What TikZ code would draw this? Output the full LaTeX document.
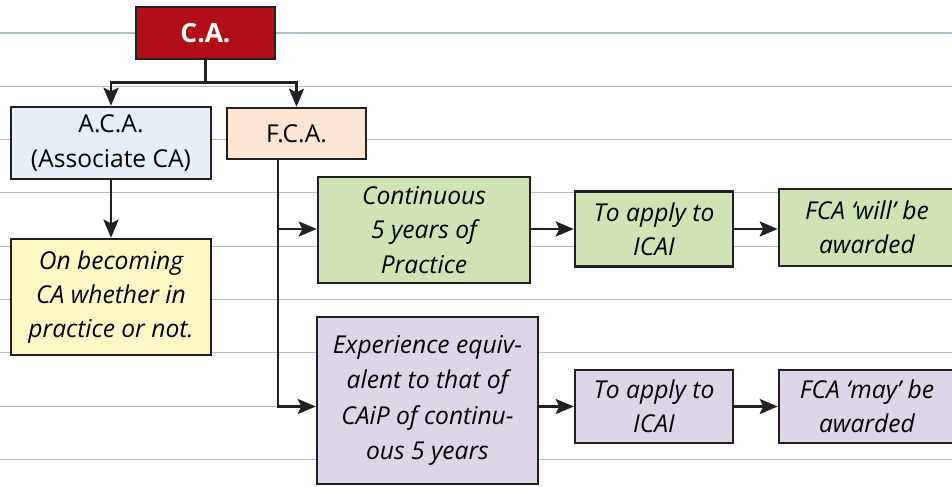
\documentclass[tikz,border=0pt]{standalone}
\usepackage{fontspec}
\setmainfont{Open Sans}
\usepackage{tikz}
\usetikzlibrary{arrows.meta, positioning}

\definecolor{caRed}{RGB}{178,14,23}
\definecolor{acaBlue}{RGB}{229,238,249}
\definecolor{fcaPeach}{RGB}{252,229,211}
\definecolor{noteYellow}{RGB}{255,248,197}
\definecolor{stepGreen}{RGB}{206,228,181}
\definecolor{stepPurple}{RGB}{222,213,232}
\definecolor{ruleLine}{RGB}{172,190,200}
\definecolor{boxLine}{RGB}{35,32,32}

\begin{document}
\begin{tikzpicture}[
    box/.style={rectangle, draw=boxLine, line width=1.4pt, align=center, inner sep=2pt, font=\itshape\fontsize{14}{19.5}\selectfont},
    flow/.style={-{Stealth[length=3.6mm, width=3mm, inset=0.7mm]}, line width=1.5pt, draw=boxLine}
]
    \useasboundingbox (0,0) rectangle (19.04,9.72);
    % ruled paper
    \foreach \k in {0,...,8}
        \draw[ruleLine, line width=0.6pt] (0,{9.06-1.066*\k}) -- (19.04,{9.06-1.066*\k});

    \node[box, fill=caRed, text=white, font=\bfseries\fontsize{15}{19.5}\selectfont, minimum width=2.78cm, minimum height=1.04cm] (ca) at (4.11,9.06) {C.A.};
    \node[box, fill=acaBlue, font=\fontsize{14}{19.5}\selectfont, minimum width=4cm, minimum height=1.44cm] (aca) at (2.22,6.86) {A.C.A.\\(Associate CA)};
    \node[box, fill=fcaPeach, font=\fontsize{14}{19.5}\selectfont, minimum width=2.78cm, minimum height=1.02cm] (fca) at (5.93,7.05) {F.C.A.};
    \node[box, fill=noteYellow, minimum width=4cm, minimum height=2.32cm] (become) at (2.22,3.78) {On becoming\\CA whether in\\practice or not.};

    % continuous practice row
    \node[box, fill=stepGreen, minimum width=4.24cm, minimum height=2.12cm] (cont) at (8.48,5.12) {Continuous\\5 years of\\Practice};
    \node[box, fill=stepGreen, minimum width=3.16cm, minimum height=1.5cm] (apply1) at (13.08,5.14) {To apply to\\ICAI};
    \node[box, fill=stepGreen, minimum width=3.52cm, minimum height=1.54cm] (will) at (17.34,5.17) {FCA ‘will’ be\\awarded};

    % equivalent experience row
    \node[box, fill=stepPurple, minimum width=4.42cm, minimum height=3.34cm, font=\itshape\fontsize{14}{20.2}\selectfont] (exp) at (8.55,1.71) {Experience equiv-\\alent to that of\\CAiP of continu-\\ous 5 years};
    \node[box, fill=stepPurple, minimum width=3.16cm, minimum height=1.46cm] (apply2) at (13.08,1.59) {To apply to\\ICAI};
    \node[box, fill=stepPurple, minimum width=3.52cm, minimum height=1.46cm] (may) at (17.34,1.59) {FCA ‘may’ be\\awarded};

    \draw[flow] (ca.south) -- ++(0,-0.44) -| (aca.north);
    \draw[flow] (ca.south) -- ++(0,-0.44) -| (fca.north);
    \draw[flow] (aca) -- (become);
    \draw[flow] ([xshift=-0.37cm]fca.south) |- (cont.west |- apply1.west);
    \draw[flow] ([xshift=-0.37cm]fca.south) |- (exp.west |- apply2.west);
    \draw[flow] (cont.east |- apply1.west) -- (apply1.west);
    \draw[flow] (apply1.east) -- (will.west |- apply1.east);
    \draw[flow] (exp.east |- apply2.west) -- (apply2.west);
    \draw[flow] (apply2) -- (may);
\end{tikzpicture}
\end{document}
